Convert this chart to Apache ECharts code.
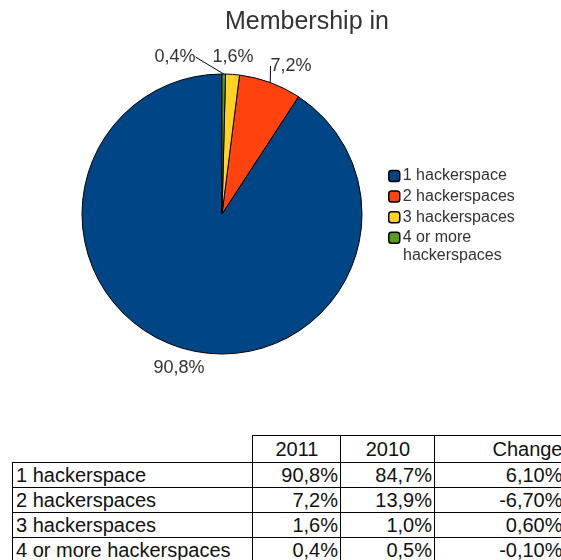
<!DOCTYPE html>
<html>
<head>
<meta charset="utf-8">
<script src="https://cdn.jsdelivr.net/npm/echarts@6/dist/echarts.min.js"></script>
<style>
  body { margin: 0; background: #fff; font-family: "Liberation Sans", Arial, sans-serif; }
  #wrap { position: relative; width: 561px; height: 560px; overflow: hidden; }
  #chart { position: absolute; left: 0; top: 0; width: 561px; height: 420px; }
  #tbl { position: absolute; left: 12px; top: 435px; border-collapse: collapse; table-layout: fixed;
         width: 550px; font-size: 20px; color: #111; }
  #tbl td { border: 1px solid #000; height: 24px; padding: 0 2px 0 3px; line-height: 24px; white-space: nowrap; overflow: hidden; }
  #tbl tr.head td { height: 26px; line-height: 26px; }
  #tbl td.num { text-align: right; }
  #tbl td.hd { text-align: center; }
  #tbl td.blank { border: none; }
  #tbl td.last { border-right: none; padding-right: 0; }
</style>
</head>
<body>
<div id="wrap">
  <div id="chart"></div>
  <table id="tbl">
    <colgroup><col style="width:240px"><col style="width:88px"><col style="width:94px"><col style="width:128px"></colgroup>
  </table>
</div>
<script>
// categories and values
var categories = ['1 hackerspace', '2 hackerspaces', '3 hackerspaces', '4 or more hackerspaces'];
var share2011 = [90.8, 7.2, 1.6, 0.4];
var share2010 = [84.7, 13.9, 1.0, 0.5];
var change = [6.10, -6.70, 0.60, -0.10];
var colors = ['#004586', '#ff420e', '#ffd320', '#579d1c'];

function fmt(v, d) { return v.toFixed(d).replace('.', ',') + '%'; }

// where each slice label sits (label centre) and whether it gets a leader line
var labelSpots = [[179, 368], [291, 66], [233, 57], [175, 57]];
var showLine = [false, true, false, true];

var myChart = echarts.init(document.getElementById('chart'));
var option = {
    color: colors,
    title: {
        text: 'Membership in',
        left: 225,
        top: 10,
        padding: 0,
        textStyle: { fontFamily: 'Liberation Sans', fontSize: 25, fontWeight: 'normal', color: '#333' }
    },
    legend: {
        orient: 'vertical',
        left: 388,
        top: 166,
        padding: 0,
        itemWidth: 11,
        itemHeight: 11,
        itemGap: 0.6,
        icon: 'roundRect',
        itemStyle: { borderColor: '#000', borderWidth: 1.5 },
        textStyle: { fontFamily: 'Liberation Sans', fontSize: 16, lineHeight: 20, color: '#333', padding: [0, 0, 0, -2] },
        formatter: function (name) { return name === categories[3] ? '4 or more' : name; },
        data: categories
    },
    graphic: [{
        type: 'text',
        left: 403,
        top: 248,
        style: { text: 'hackerspaces', fontFamily: 'Liberation Sans', fontSize: 16, fill: '#333' }
    }],
    series: [{
        type: 'pie',
        center: [222, 214],
        radius: 140,
        startAngle: 90,
        clockwise: false,
        animation: false,
        itemStyle: { borderColor: '#000', borderWidth: 1 },
        label: {
            show: true,
            position: 'outside',
            fontFamily: 'Liberation Sans',
            fontSize: 18,
            color: '#333',
            formatter: function (p) { return fmt(p.value, 1); }
        },
        labelLine: { show: true, length: 4, length2: 0, lineStyle: { color: '#000', width: 1 } },
        labelLayout: function (p) {
            var s = labelSpots[p.dataIndex];
            return { x: s[0], y: s[1], align: 'center', verticalAlign: 'middle' };
        },
        emphasis: { disabled: true },
        data: categories.map(function (c, i) {
            return { name: c, value: share2011[i], labelLine: { show: showLine[i] } };
        })
    }]
};
myChart.setOption(option);

// table under the chart
var tbl = document.getElementById('tbl');
var html = '<tr class="head"><td class="blank"></td><td class="hd">2011</td>' +
    '<td class="hd">2010</td><td class="num last">Change</td></tr>';
for (var i = 0; i < categories.length; i++) {
    html += '<tr><td>' + categories[i] + '</td><td class="num">' + fmt(share2011[i], 1) +
        '</td><td class="num">' + fmt(share2010[i], 1) + '</td><td class="num last">' + fmt(change[i], 2) + '</td></tr>';
}
tbl.insertAdjacentHTML('beforeend', html);
</script>
</body>
</html>
